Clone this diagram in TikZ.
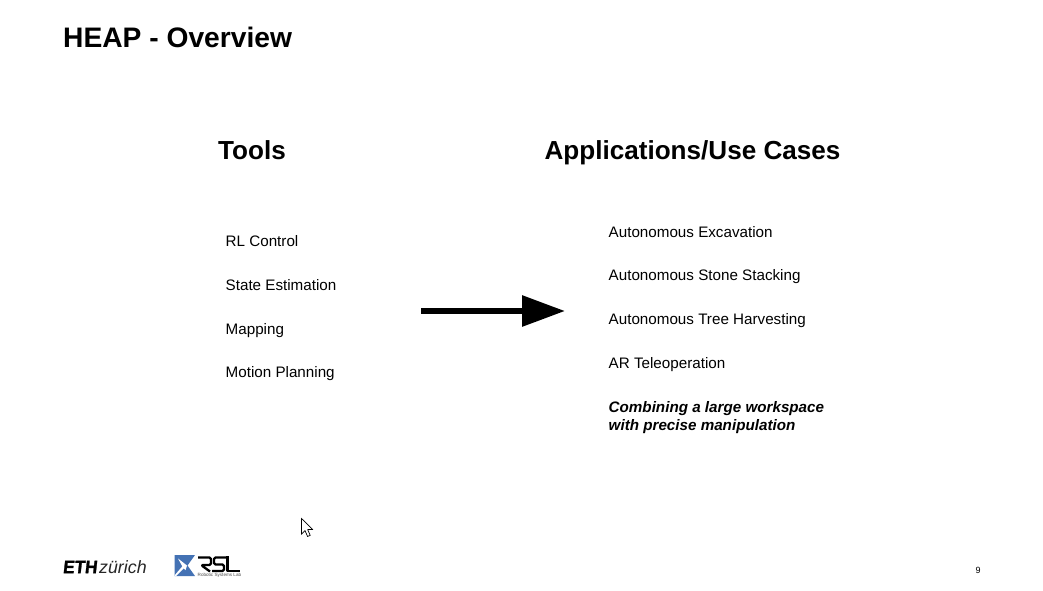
\documentclass[tikz,border=0pt]{standalone}
\usepackage{fontspec}
\setmainfont{Liberation Sans}
\newfontface\ethface[FakeBold=1.6,FakeSlant=0.12]{Liberation Sans Bold}
\usetikzlibrary{arrows.meta}
\definecolor{rslblue}{HTML}{4472B4}
\tikzset{
  x=1pt,y=-1pt,
  title/.style={anchor=base west,inner sep=0pt,font=\fontsize{28.2}{32}\selectfont\bfseries},
  head/.style={anchor=base,inner sep=0pt,font=\fontsize{26.1}{30}\selectfont\bfseries},
  item/.style={anchor=base west,inner sep=0pt,font=\fontsize{15.2}{18.2}\selectfont},
  bigarrow/.style={line width=6pt,-{Triangle[length=43pt,width=30pt]}},
  rslstroke/.style={black,line width=2.3pt,line join=round,rounded corners=1.5pt},
}
\begin{document}
\begin{tikzpicture}
\useasboundingbox (0,0) rectangle (1043,590);
\fill[white] (0,0) rectangle (1043,590);
\node[title] (title) at (63,47.5) {HEAP - Overview};
\node[head] (tools) at (252,159.5) {Tools};
\node[head] (apps) at (692.5,159.5) {Applications/Use Cases};
\node[item] (t1) at (225.5,246.5) {RL Control};
\node[item] (t2) at (225.5,290.3) {State Estimation};
\node[item] (t3) at (225.5,334) {Mapping};
\node[item] (t4) at (225.5,377.8) {Motion Planning};
\node[item] (a1) at (608.5,237) {Autonomous Excavation};
\node[item] (a2) at (608.5,280.8) {Autonomous Stone Stacking};
\node[item] (a3) at (608.5,324.5) {Autonomous Tree Harvesting};
\node[item] (a4) at (608.5,368.3) {AR Teleoperation};
\node[item,align=left,anchor=west,font=\fontsize{15.2}{18.2}\selectfont\bfseries\itshape] (a5) at (608.5,417.4) {Combining a large workspace\\with precise manipulation};
\coordinate (from) at (421,311);
\coordinate (to) at (565,311);
\draw[bigarrow] (from) -- (to);
% cursor
\draw[fill=white,draw=black,line width=0.7pt,line join=miter]
 (301.5,518.5) -- (301.5,534) -- (305,530.6) -- (307.6,536.5) -- (310.2,535.3) -- (307.7,529.6) -- (312.6,529.4) -- cycle;
% ETH logo
\node[anchor=base west,inner sep=0pt,xscale=0.95,font=\fontsize{18}{20}\ethface] (eth) at (62.5,573.2) {ETH};
\node[anchor=base west,inner sep=0pt,font=\fontsize{17.8}{20}\selectfont\itshape,text=black!85] (zurich) at (99,573.2) {zürich};
% RSL logo
\fill[rslblue] (174.5,555) -- (195,555) -- (187.5,565.5) -- (195,576) -- (174.5,576) -- cycle;
\fill[white] (178,558.5) -- (187,565.5) -- (185.5,570) -- (183,567.5) -- cycle;
\fill[white] (174.5,575.5) -- (183,565.5) -- (184.5,567.5) -- (176,576) -- cycle;
\draw[rslstroke] (198,557.5) -- (211,557.5) -- (211,565) -- (201,565) -- (210,571.5);
\draw[rslstroke] (226,557.5) -- (214,557.5) -- (214,564.5) -- (224,564.5) -- (224,571) -- (212,571);
\draw[rslstroke,rounded corners=0pt] (227.5,556) -- (227.5,571) -- (239.5,571);
\node[anchor=base west,inner sep=0pt,text=black!70,font=\fontsize{4.6}{5}\selectfont] (rsl) at (197.5,576.5) {Robotic Systems Lab};
\node[anchor=center,inner sep=0pt,font=\fontsize{9}{10}\selectfont] (page) at (978,570.5) {9};
\end{tikzpicture}
\end{document}
